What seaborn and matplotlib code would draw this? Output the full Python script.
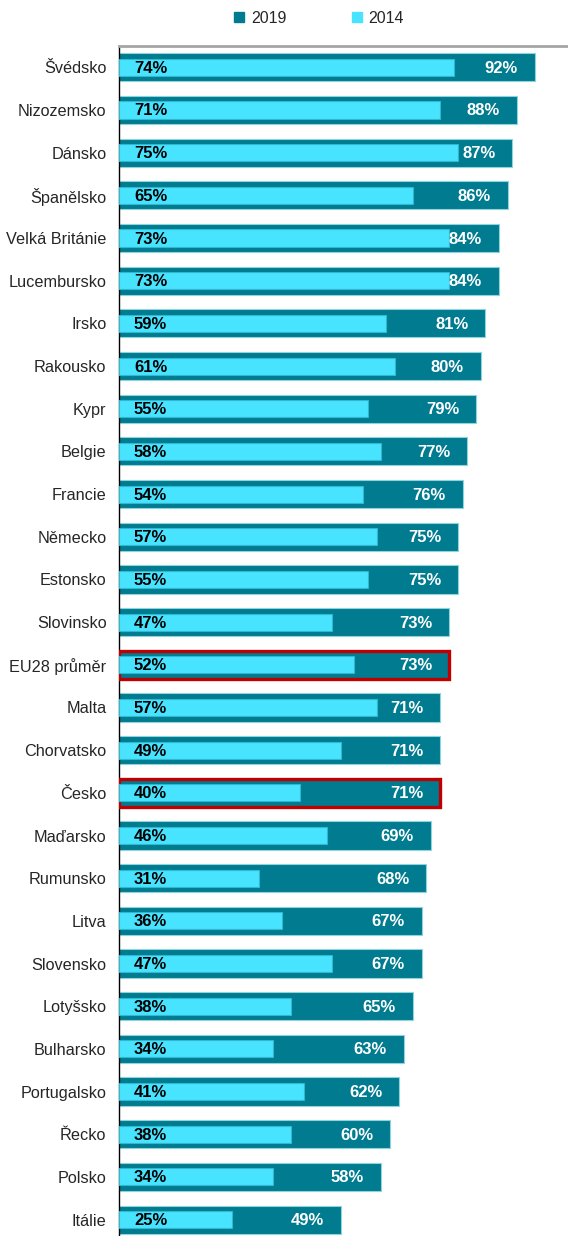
import matplotlib.pyplot as plt
import seaborn as sns
import pandas as pd
from matplotlib.lines import Line2D

countries = ['Švédsko', 'Nizozemsko', 'Dánsko', 'Španělsko', 'Velká Británie', 'Lucembursko',
             'Irsko', 'Rakousko', 'Kypr', 'Belgie', 'Francie', 'Německo', 'Estonsko', 'Slovinsko',
             'EU28 průměr', 'Malta', 'Chorvatsko', 'Česko', 'Maďarsko', 'Rumunsko', 'Litva',
             'Slovensko', 'Lotyšsko', 'Bulharsko', 'Portugalsko', 'Řecko', 'Polsko', 'Itálie']
v2019 = [92, 88, 87, 86, 84, 84, 81, 80, 79, 77, 76, 75, 75, 73,
         73, 71, 71, 71, 69, 68, 67, 67, 65, 63, 62, 60, 58, 49]
v2014 = [74, 71, 75, 65, 73, 73, 59, 61, 55, 58, 54, 57, 55, 47,
         52, 57, 49, 40, 46, 31, 36, 47, 38, 34, 41, 38, 34, 25]
highlight = ['EU28 průměr', 'Česko']

df = pd.DataFrame({'Země': countries, '2019': v2019, '2014': v2014})

c2019 = '#007B8F'
c2014 = '#48E3FF'

sns.set_style('white')
plt.rcParams['font.family'] = ['Liberation Sans', 'DejaVu Sans']

fig = plt.figure(figsize=(5.68, 12.36), dpi=100)
ax = fig.add_axes([0.2095, -0.004, 0.7905, 0.9668])

sns.barplot(data=df, y='Země', x='2019', color=c2019, width=0.66, orient='h',
            edgecolor='#8fd3dd', linewidth=0.8, saturation=1, ax=ax)
sns.barplot(data=df, y='Země', x='2014', color=c2014, width=0.40, orient='h',
            edgecolor='#2fb8d0', linewidth=0.8, saturation=1, ax=ax)

bars19 = ax.containers[0]
bars14 = ax.containers[1]

# red frame around selected 2019 bars, 2014 bars stay on top
for bar, name in zip(bars19, countries):
    if name in highlight:
        bar.set_edgecolor('#C00000')
        bar.set_linewidth(2.4)
        bar.set_zorder(3)
for bar in bars14:
    bar.set_zorder(4)

# labels
for i, (a, b) in enumerate(zip(v2019, v2014)):
    ax.annotate(f'{a}%', xy=(a, i), xytext=(-17, -1), textcoords='offset pixels',
                ha='right', va='center', color='white', fontsize=12, weight='bold', zorder=5)
    ax.annotate(f'{b}%', xy=(0, i), xytext=(15, -1), textcoords='offset pixels',
                ha='left', va='center', color='black', fontsize=12, weight='bold', zorder=5)

ax.set_xlim(0, 99.3)
ax.set_ylim(len(countries) - 0.5, -0.5)
ax.set_xlabel('')
ax.set_ylabel('')
ax.set_xticks([])

# ticks between categories on the left axis
ax.set_yticks([i + 0.5 for i in range(len(countries) - 1)], minor=False)
ax.set_yticklabels([])
ax.set_yticks(range(len(countries)), minor=True)
ax.set_yticklabels(countries, minor=True, fontsize=11.7)
ax.tick_params(axis='y', which='major', length=5, width=1, color='black', direction='out')
ax.tick_params(axis='y', which='minor', length=0, pad=9)

for s in ['right', 'bottom']:
    ax.spines[s].set_visible(False)
ax.spines['left'].set_color('black')
ax.spines['left'].set_linewidth(1)
ax.spines['top'].set_color('#a6a6a6')
ax.spines['top'].set_linewidth(2)

handles = [Line2D([], [], marker='s', linestyle='', color=c2019, markersize=6.5),
           Line2D([], [], marker='s', linestyle='', color=c2014, markersize=6.5)]
fig.legend(handles, ['2019', '2014'], loc='center', bbox_to_anchor=(0.559, 0.985),
           ncol=2, frameon=False, fontsize=11.5, handletextpad=0.25, columnspacing=3.9,
           handlelength=1.0)

plt.savefig('out.png', dpi=100)
plt.close()
